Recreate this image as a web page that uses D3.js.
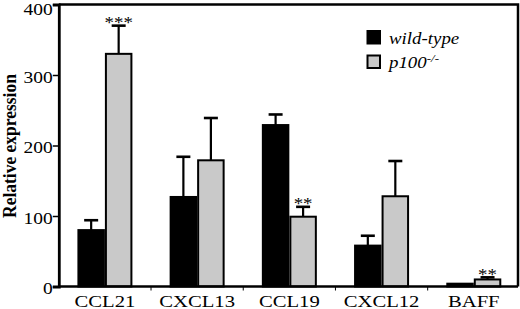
<!DOCTYPE html>
<html>
<head>
<meta charset="utf-8">
<script src="https://cdn.jsdelivr.net/npm/d3@7"></script>
<style>
  body { margin: 0; background: #fff; }
  svg { display: block; }
</style>
</head>
<body>
<script>
let categories = ["CCL21", "CXCL13", "CCL19", "CXCL12", "BAFF"];
let wildType = [80, 127, 229, 58, 4];
let wildTypeErr = [14, 57, 15, 14, 0];
let p100 = [330, 179, 99, 128, 10];
let p100Err = [40, 60, 14, 50, 3];
let p100Stars = ["***", "", "**", "", "**"];
let yTicks = [0, 100, 200, 300, 400];

let w = 520;
let h = 309;
let padL = 58.8, padR = 519.9, padT = 4.5, padB = 286.5;
let stretch = 1.18; // the figure is squashed wider than normal type
let grey = "#c9c9c9";
let serif = "'Liberation Serif', serif";

let svg = d3.select("body")
  .append("svg")
  .attr("width", w)
  .attr("height", h)
  .attr("font-family", serif);

let x0 = d3.scaleBand()
  .domain(categories)
  .range([padL, padR])
  .padding(0);

let barW = 27.5;
let x1 = d3.scaleBand()
  .domain(["wt", "ko"])
  .range([x0.bandwidth() / 2 - barW, x0.bandwidth() / 2 + barW]);

let yScale = d3.scaleLinear()
  .domain([0, 400])
  .range([padB, padT]);

let rows = categories.map((c, i) => {
  return [
    { cat: c, key: "wt", v: wildType[i], e: wildTypeErr[i], stars: "" },
    { cat: c, key: "ko", v: p100[i], e: p100Err[i], stars: p100Stars[i] }
  ];
}).flat();

// error bars (upper only)
let err = svg.append("g")
  .selectAll("g")
  .data(rows.filter((d) => d.e > 0))
  .enter()
  .append("g")
  .attr("stroke", "#000")
  .attr("stroke-width", 2.2);

err.append("line")
  .attr("x1", (d) => x0(d.cat) + x1(d.key) + barW / 2)
  .attr("x2", (d) => x0(d.cat) + x1(d.key) + barW / 2)
  .attr("y1", (d) => yScale(d.v))
  .attr("y2", (d) => yScale(d.v + d.e));

err.append("line")
  .attr("x1", (d) => x0(d.cat) + x1(d.key) + barW / 2 - 7)
  .attr("x2", (d) => x0(d.cat) + x1(d.key) + barW / 2 + 7)
  .attr("y1", (d) => yScale(d.v + d.e))
  .attr("y2", (d) => yScale(d.v + d.e))
  .attr("stroke-width", 2.6);

// bars
svg.append("g")
  .selectAll("rect")
  .data(rows)
  .enter()
  .append("rect")
  .attr("x", (d) => x0(d.cat) + x1(d.key) + 1)
  .attr("width", barW - 2)
  .attr("y", (d) => yScale(d.v))
  .attr("height", (d) => yScale(0) - yScale(d.v))
  .attr("fill", (d) => d.key == "wt" ? "#000" : grey)
  .attr("stroke", "#000")
  .attr("stroke-width", 2);

// significance stars
svg.append("g")
  .selectAll("text")
  .data(rows.filter((d) => d.stars))
  .enter()
  .append("text")
  .text((d) => d.stars)
  .attr("transform", (d) => {
    let cx = x0(d.cat) + x1(d.key) + barW / 2;
    let cy = yScale(d.v + d.e) + 2.5;
    return "translate(" + cx + "," + cy + ") scale(" + stretch + ",1)";
  })
  .attr("text-anchor", "middle")
  .attr("font-size", "16px");

// frame: top and right lines
svg.append("path")
  .attr("d", "M" + padL + "," + padT + "H" + 518 + "V" + padB)
  .attr("fill", "none")
  .attr("stroke", "#000")
  .attr("stroke-width", 2.5);

// y axis
let yAxis = svg.append("g")
  .attr("transform", "translate(" + padL + ",0)")
  .call(d3.axisLeft(yScale).tickValues(yTicks).tickSize(6).tickFormat(d3.format("d")));

yAxis.attr("font-family", serif);
yAxis.select(".domain").attr("stroke-width", 2.8);
yAxis.selectAll(".tick line").attr("stroke-width", 1.5);
yAxis.selectAll(".tick text")
  .attr("x", null)
  .attr("dy", "0.34em")
  .attr("fill", "#000")
  .attr("transform", (d) => {
    // top label sits a little lower so it is not clipped
    let off = Math.max(1.7, 8.5 - yScale(d));
    return "translate(-6," + off + ") scale(" + stretch + ",1)";
  })
  .attr("font-size", "16.5px");

// x axis: line, boundary ticks, labels
svg.append("line")
  .attr("x1", padL)
  .attr("x2", 518)
  .attr("y1", padB)
  .attr("y2", padB)
  .attr("stroke", "#000")
  .attr("stroke-width", 2.5);

svg.append("g")
  .selectAll("line")
  .data(categories.slice(1))
  .enter()
  .append("line")
  .attr("x1", (d) => x0(d))
  .attr("x2", (d) => x0(d))
  .attr("y1", padB)
  .attr("y2", padB + 4)
  .attr("stroke", "#000")
  .attr("stroke-width", 1);

svg.append("g")
  .selectAll("text")
  .data(categories)
  .enter()
  .append("text")
  .text((d) => d)
  .attr("transform", (d) => "translate(" + (x0(d) + x0.bandwidth() / 2) + ",306.5) scale(" + stretch + ",1)")
  .attr("text-anchor", "middle")
  .attr("font-size", "17.5px");

// y title
svg.append("text")
  .text("Relative expression")
  .attr("transform", "translate(16,146) rotate(-90) scale(1,1.1)")
  .attr("text-anchor", "middle")
  .attr("font-weight", "bold")
  .attr("font-size", "17.5px");

// legend
let legend = [
  { fill: "#000", y: 30, label: "wild-type", sup: "" },
  { fill: grey, y: 54.5, label: "p100", sup: "-/-" }
];

let lg = svg.append("g")
  .selectAll("g")
  .data(legend)
  .enter()
  .append("g");

lg.append("rect")
  .attr("x", 367.5)
  .attr("y", (d) => d.y + 1)
  .attr("width", 12.5)
  .attr("height", 12.5)
  .attr("fill", (d) => d.fill)
  .attr("stroke", "#000")
  .attr("stroke-width", 2);

let lt = lg.append("text")
  .attr("transform", (d) => "translate(389," + (d.y + 13.5) + ") scale(" + stretch + ",1)")
  .attr("font-style", "italic")
  .attr("font-size", "16px");

lt.append("tspan").text((d) => d.label);
lt.append("tspan")
  .text((d) => d.sup)
  .attr("font-size", "11px")
  .attr("dy", "-6");
</script>
</body>
</html>
